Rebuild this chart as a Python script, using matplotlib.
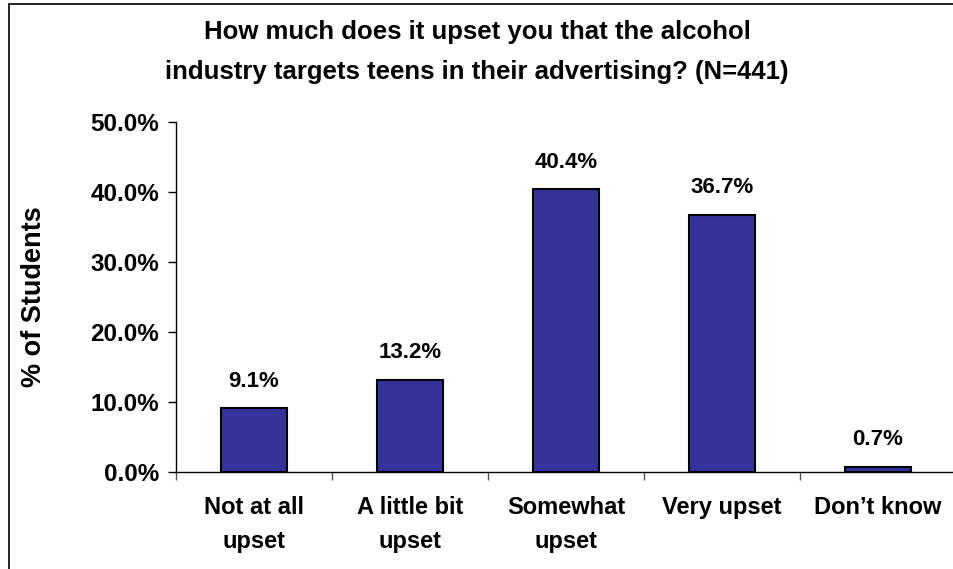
import matplotlib.pyplot as plt
from matplotlib.patches import Rectangle

plt.rcParams['font.family'] = ['Liberation Sans', 'DejaVu Sans']
plt.rcParams['font.weight'] = 'bold'

categories = ['Not at all\nupset', 'A little bit\nupset', 'Somewhat\nupset', 'Very upset', 'Don\u2019t know']
values = [9.1, 13.2, 40.4, 36.7, 0.7]
yticks = [0, 10, 20, 30, 40, 50]

fig = plt.figure(figsize=(9.54, 5.69), dpi=100)
ax = fig.add_axes([176 / 954, 1 - 472 / 569, 780 / 954, 350 / 569])

xs = list(range(len(values)))
ax.bar(xs, values, width=0.42, color='#333399', edgecolor='black', linewidth=1.5, zorder=3)

for x, v in zip(xs, values):
    ax.annotate(f'{v:.1f}%', (x, v), xytext=(0, 12), textcoords='offset points',
                ha='center', va='bottom', fontsize=16, fontweight='bold')

ax.set_xlim(-0.5, len(values) - 0.5)
ax.set_ylim(0, 50)
ax.set_yticks(yticks)
ax.set_yticklabels([f'{t:.1f}%' for t in yticks], fontsize=17.5, fontweight='bold')
ax.set_xticks(xs)
ax.set_xticklabels(categories, fontsize=17, fontweight='bold', linespacing=1.65)
ax.set_xticks([x - 0.5 for x in xs] + [len(values) - 0.5], minor=True)
ax.tick_params(axis='x', which='major', length=0, pad=17)
ax.tick_params(axis='x', which='minor', length=6, direction='out', width=1, color='#555555')
ax.tick_params(axis='y', length=6, direction='out', width=1, pad=6)

for s in ['top', 'right']:
    ax.spines[s].set_visible(False)
ax.spines['left'].set_linewidth(1)
ax.spines['bottom'].set_linewidth(1)

ax.set_ylabel('% of Students', fontsize=19.5, fontweight='bold')
ax.yaxis.set_label_coords(-(176 - 47) / 780, 0.5)

fig.text(0.5, 1 - 52 / 569,
         'How much does it upset you that the alcohol\nindustry targets teens in their advertising? (N=441)',
         ha='center', va='center', fontsize=18.5, fontweight='bold', linespacing=1.85)

fig.patches.append(Rectangle((9 / 954, -0.01), 1.0, 1 - 4 / 569 + 0.01, transform=fig.transFigure,
                             fill=False, edgecolor='black', linewidth=1.2))

fig.savefig('out.png', dpi=100)
